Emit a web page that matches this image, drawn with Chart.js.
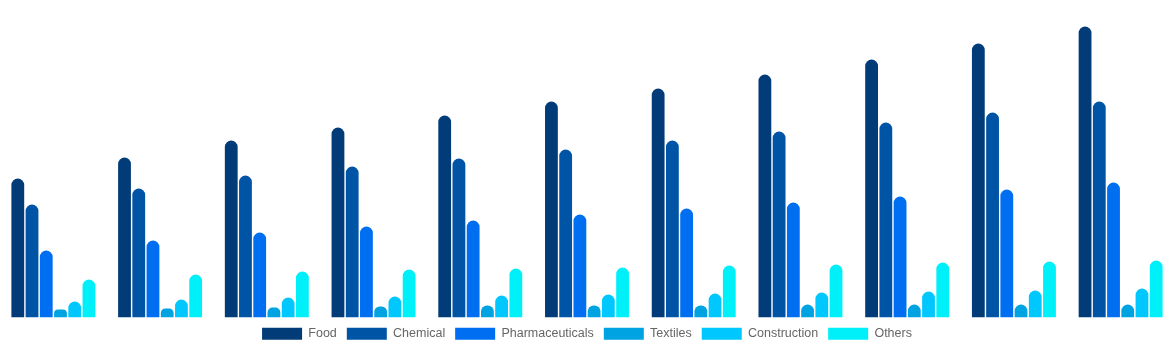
<!DOCTYPE html>
<html>
<head>
<meta charset="utf-8">
<title>Market by sector</title>
<script src="https://cdn.jsdelivr.net/npm/chart.js@4.4.1/dist/chart.umd.min.js"></script>
<style>
    html, body { margin: 0; padding: 0; background: #fff; }
    .chart-box { width: 1174px; height: 350px; }
</style>
</head>
<body>
<div class="chart-box"><canvas id="sectorChart"></canvas></div>
<script>
const years = ["2020", "2021", "2022", "2023", "2024", "2025", "2026", "2027", "2028", "2029", "2030"];

const food            = [139, 160, 177, 190, 202, 216, 229, 243, 258, 274, 291];
const chemical        = [113, 129, 142, 151, 159, 168, 177, 186, 195, 205, 216];
const pharmaceuticals = [67, 77, 85, 91, 97, 103, 109, 115, 121, 128, 135];
const textiles        = [8, 9, 10, 11, 12, 12, 12, 13, 13, 13, 13];
const construction    = [16, 18, 20, 21, 22, 23, 24, 25, 26, 27, 29];
const others          = [38, 43, 46, 48, 49, 50, 52, 53, 55, 56, 57];

const Y_MAX = 317.5;

function series(label, data, color) {
    return {
        label: label,
        data: data,
        backgroundColor: color,
        borderWidth: 0,
        borderRadius: 20
    };
}

new Chart(document.getElementById("sectorChart"), {
    type: "bar",
    data: {
        labels: years,
        datasets: [
            series("Food", food, "#023c78"),
            series("Chemical", chemical, "#0054a6"),
            series("Pharmaceuticals", pharmaceuticals, "#006ef0"),
            series("Textiles", textiles, "#00a3e2"),
            series("Construction", construction, "#00c8ff"),
            series("Others", others, "#00f0fa")
        ]
    },
    options: {
        responsive: true,
        maintainAspectRatio: false,
        animation: false,
        plugins: {
            legend: {
                position: "bottom",
                labels: { color: "#666", boxHeight: 12, font: { size: 12.5 } }
            },
            tooltip: { enabled: false }
        },
        scales: {
            x: { display: false },
            y: { display: false, min: 0, max: Y_MAX }
        }
    }
});
</script>
</body>
</html>
